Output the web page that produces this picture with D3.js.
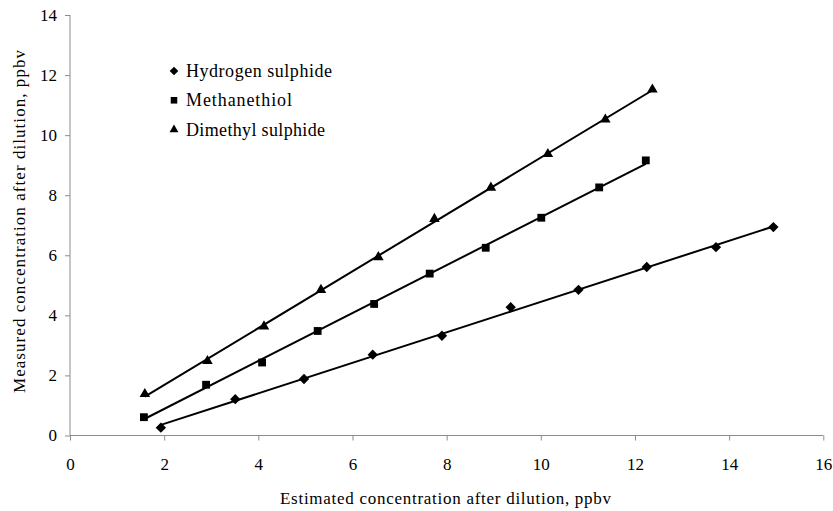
<!DOCTYPE html>
<html>
<head>
<meta charset="utf-8">
<script src="https://cdn.jsdelivr.net/npm/d3@7"></script>
<style>
  body { margin: 0; background: #fff; }
  svg { display: block; }
  .Axis path, .Axis line { stroke: #8c8c8c; }
</style>
</head>
<body>
<svg id="chart" width="833" height="511"></svg>
<script>
const FONT = "Liberation Serif, Times New Roman, serif";

const X_TICKS = [0, 2, 4, 6, 8, 10, 12, 14, 16];
const Y_TICKS = [0, 2, 4, 6, 8, 10, 12, 14];

const SERIES_NAMES = ["Hydrogen sulphide", "Methanethiol", "Dimethyl sulphide"];

// Estimated (x) / measured (y), ppbv.
const h2sX = [1.93, 3.51, 4.97, 6.43, 7.90, 9.36, 10.80, 12.25, 13.72, 14.94];
const h2sY = [0.26, 1.21, 1.88, 2.69, 3.32, 4.27, 4.85, 5.61, 6.27, 6.94];
const mtX = [1.57, 2.89, 4.08, 5.26, 6.46, 7.64, 8.83, 10.01, 11.24, 12.23];
const mtY = [0.61, 1.69, 2.43, 3.48, 4.38, 5.39, 6.25, 7.25, 8.26, 9.16];
const dmsX = [1.59, 2.92, 4.12, 5.33, 6.55, 7.74, 8.94, 10.15, 11.37, 12.37];
const dmsY = [1.38, 2.48, 3.63, 4.85, 5.94, 7.21, 8.25, 9.37, 10.52, 11.52];

const margin = {top: 15, left: 70};
const innerWidth = 823.3 - margin.left;
const innerHeight = 435.5 - margin.top;

const svg = d3.select("#chart");
const g = svg.append("g").attr("transform", `translate(${margin.left}, ${margin.top})`);

const xScale = d3.scaleLinear().domain([0, 16]).range([0, innerWidth]);
const yScale = d3.scaleLinear().domain([0, 14]).range([innerHeight, 0]);

// Axes (left and bottom only, ticks outside).
const xAxis = d3.axisBottom(xScale).tickValues(X_TICKS).tickSizeInner(5).tickSizeOuter(5).tickPadding(17);
const yAxis = d3.axisLeft(yScale).tickValues(Y_TICKS).tickSizeInner(5).tickSizeOuter(5).tickPadding(8);
g.append("g").attr("class", "Axis")
  .attr("transform", `translate(0, ${innerHeight})`)
  .call(xAxis)
  .call((a) => a.select(".domain").attr("d", `M0,0H${innerWidth}`))
  .attr("font-family", FONT).attr("font-size", 17)
  .call((a) => a.selectAll("text").attr("fill", "#000"));
g.append("g").attr("class", "Axis")
  .call(yAxis)
  .call((a) => a.select(".domain").attr("d", `M0,${innerHeight}V0`))
  .attr("font-family", FONT).attr("font-size", 17)
  .call((a) => a.selectAll("text").attr("fill", "#000"));

// Axis titles.
svg.append("text")
  .attr("x", 280).attr("y", 504)
  .attr("font-family", FONT).attr("font-size", 17)
  .attr("textLength", 331).attr("lengthAdjust", "spacing")
  .text("Estimated concentration after dilution, ppbv");
svg.append("text")
  .attr("transform", "translate(25, 393) rotate(-90)")
  .attr("font-family", FONT).attr("font-size", 17)
  .attr("textLength", 343).attr("lengthAdjust", "spacing")
  .text("Measured concentration after dilution, ppbv");

// Series with linear trendlines.
const series = [
  {name: SERIES_NAMES[0], xs: h2sX, ys: h2sY, symbol: d3.symbolDiamond2, size: 68, legendW: 146},
  {name: SERIES_NAMES[1], xs: mtX, ys: mtY, symbol: d3.symbolSquare2, size: 78, legendW: 106},
  {name: SERIES_NAMES[2], xs: dmsX, ys: dmsY, symbol: d3.symbolTriangle2, size: 80, legendW: 139},
];

const fit = (xs, ys) => {
  const mx = d3.mean(xs), my = d3.mean(ys);
  const sxy = d3.sum(xs, (x, i) => (x - mx) * (ys[i] - my));
  const sxx = d3.sum(xs, (x) => (x - mx) ** 2);
  const b = sxy / sxx;
  return (x) => my + b * (x - mx);
};

const line = d3.line().x((d) => xScale(d[0])).y((d) => yScale(d[1]));

series.forEach((s) => {
  const f = fit(s.xs, s.ys);
  const [x0, x1] = d3.extent(s.xs);
  g.append("path")
    .attr("d", line([[x0, f(x0)], [x1, f(x1)]]))
    .attr("fill", "none").attr("stroke", "#000").attr("stroke-width", 2);
  const sym = d3.symbol().type(s.symbol).size(s.size);
  g.append("g").selectAll("path").data(s.xs).join("path")
    .attr("transform", (x, i) => `translate(${xScale(x)}, ${yScale(s.ys[i])})`)
    .attr("d", sym())
    .attr("fill", "#000");
});

// Legend.
const gLegend = svg.append("g").attr("transform", "translate(174, 71)");
series.forEach((s, i) => {
  const sym = d3.symbol().type(s.symbol).size(s.size * 0.7);
  gLegend.append("path")
    .attr("transform", `translate(0, ${i * 29.3})`)
    .attr("d", sym()).attr("fill", "#000");
  gLegend.append("text")
    .attr("x", 12).attr("y", i * 29.3 + 6)
    .attr("font-family", FONT).attr("font-size", 18)
    .attr("textLength", s.legendW).attr("lengthAdjust", "spacing")
    .text(s.name);
});
</script>
</body>
</html>
